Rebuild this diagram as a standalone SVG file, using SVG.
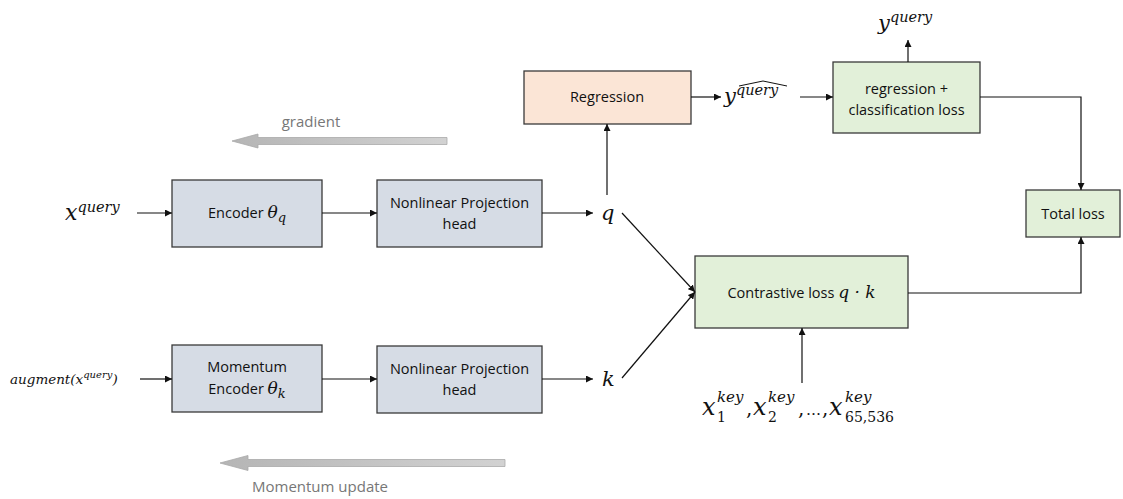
<svg xmlns="http://www.w3.org/2000/svg" width="1123" height="499" viewBox="0 0 1123 499">
<style>
.box{stroke:#3a3a3a;stroke-width:1.3}
.blue{fill:#D6DCE5}
.orange{fill:#FBE5D6}
.green{fill:#E2F0D9}
.t{font-family:"Open Sans","Liberation Sans",sans-serif;font-size:14.5px;fill:#111;text-anchor:middle}
.m{font-family:"DejaVu Serif","Liberation Serif",serif;font-style:italic;fill:#111}
.n{font-family:"DejaVu Serif","Liberation Serif",serif;fill:#111}
.c{fill:none;stroke:#111;stroke-width:1.2}
.g{font-family:"Open Sans","Liberation Sans",sans-serif;font-size:15px;fill:#777;text-anchor:middle}
</style>
<defs>
<marker id="ah" viewBox="0 0 10 10" refX="10" refY="5" markerWidth="7" markerHeight="7" markerUnits="userSpaceOnUse" orient="auto">
<path d="M0,0 L10,5 L0,10 z" fill="#111"/>
</marker>
<linearGradient id="gr" x1="0" y1="0" x2="1" y2="0">
<stop offset="0" stop-color="#b5b5b5"/>
<stop offset="1" stop-color="#d2d2d2"/>
</linearGradient>
</defs>
<rect width="1123" height="499" fill="#fff"/>

<g id="gradient-arrow">
<path d="M447,137.5 L258,137.5 L258,134 L232,141 L258,148 L258,144.5 L447,144.5 z" fill="url(#gr)" stroke="#aaa" stroke-width="0.8"/>
<text class="g" x="311" y="127">gradient</text>
</g>
<g id="momentum-arrow">
<path d="M505,459.5 L248,459.5 L248,455.5 L220,463 L248,470.5 L248,466.5 L505,466.5 z" fill="url(#gr)" stroke="#aaa" stroke-width="0.8"/>
<text class="g" x="320" y="492">Momentum update</text>
</g>

<g id="x-query"><text class="m" x="65" y="220" font-size="22">x<tspan font-size="14.5" dy="-8">query</tspan></text></g>
<g id="augment"><text class="m" x="10" y="384" font-size="13.5">augment(x<tspan font-size="10" dy="-6">query</tspan><tspan dy="6">)</tspan></text></g>

<g id="encoder-q"><rect class="box blue" x="172" y="180" width="150" height="67"/>
<text class="t" x="247" y="218">Encoder <tspan class="m" font-size="17">θ</tspan><tspan class="m" font-size="13" dy="4">q</tspan></text></g>
<g id="proj-q"><rect class="box blue" x="377" y="180" width="165" height="67"/>
<text class="t" x="459.5" y="208">Nonlinear Projection</text><text class="t" x="459.5" y="229">head</text></g>
<g id="encoder-k"><rect class="box blue" x="172" y="345" width="150" height="67"/>
<text class="t" x="247" y="372">Momentum</text><text class="t" x="247" y="394">Encoder <tspan class="m" font-size="17">θ</tspan><tspan class="m" font-size="13" dy="4">k</tspan></text></g>
<g id="proj-k"><rect class="box blue" x="377" y="346" width="165" height="67"/>
<text class="t" x="459.5" y="374">Nonlinear Projection</text><text class="t" x="459.5" y="395">head</text></g>

<g id="q-label"><text class="m" x="601" y="220" font-size="21">q</text></g>
<g id="k-label"><text class="m" x="602" y="386" font-size="21">k</text></g>

<g id="regression"><rect class="box orange" x="524" y="71" width="167" height="53"/>
<text class="t" x="607" y="102">Regression</text></g>

<g id="yhat"><text class="m" x="724" y="103" font-size="21">y<tspan font-size="14.5" dy="-8">query</tspan></text>
<polyline points="739,86 763,81 787,86" fill="none" stroke="#111" stroke-width="1"/></g>

<g id="reg-loss"><rect class="box green" x="833" y="62" width="147" height="71"/>
<text class="t" x="906.5" y="94">regression +</text><text class="t" x="906.5" y="115">classification loss</text></g>

<g id="y-query"><text class="m" x="878" y="30" font-size="21">y<tspan font-size="14.5" dy="-8">query</tspan></text></g>

<g id="total-loss"><rect class="box green" x="1026" y="190" width="94" height="47"/>
<text class="t" x="1073" y="219">Total loss</text></g>

<g id="contrastive"><rect class="box green" x="695" y="256" width="213" height="72"/>
<text class="t" x="801.5" y="298">Contrastive loss <tspan class="m" font-size="17">q · k</tspan></text></g>

<g id="keys">
<text class="m" x="702" y="415" font-size="24">x</text>
<text class="m" x="717" y="402" font-size="15">key</text>
<text class="n" x="717" y="422" font-size="14">1</text>
<text class="n" x="746" y="415" font-size="20">,</text>
<text class="m" x="753" y="415" font-size="24">x</text>
<text class="m" x="768" y="402" font-size="15">key</text>
<text class="n" x="768" y="422" font-size="14">2</text>
<text class="n" x="798" y="415" font-size="20">,</text>
<text class="n" x="806" y="415" font-size="15">…</text>
<text class="n" x="822" y="415" font-size="20">,</text>
<text class="m" x="829" y="415" font-size="24">x</text>
<text class="m" x="845" y="402" font-size="15">key</text>
<text class="n" x="845" y="422" font-size="14">65,536</text>
</g>

<g id="connectors">
<line class="c" x1="137" y1="213" x2="172" y2="213" marker-end="url(#ah)"/>
<line class="c" x1="322" y1="213" x2="377" y2="213" marker-end="url(#ah)"/>
<line class="c" x1="542" y1="213" x2="593" y2="213" marker-end="url(#ah)"/>
<line class="c" x1="140" y1="379" x2="172" y2="379" marker-end="url(#ah)"/>
<line class="c" x1="322" y1="379" x2="377" y2="379" marker-end="url(#ah)"/>
<line class="c" x1="542" y1="379" x2="593" y2="379" marker-end="url(#ah)"/>
<line class="c" x1="607" y1="195" x2="607" y2="124" marker-end="url(#ah)"/>
<line class="c" x1="622" y1="213" x2="695" y2="292" marker-end="url(#ah)"/>
<line class="c" x1="622" y1="378" x2="695" y2="292" marker-end="url(#ah)"/>
<line class="c" x1="691" y1="97" x2="721" y2="97" marker-end="url(#ah)"/>
<line class="c" x1="800" y1="97" x2="833" y2="97" marker-end="url(#ah)"/>
<line class="c" x1="908" y1="62" x2="908" y2="40" marker-end="url(#ah)"/>
<polyline class="c" points="980,97 1081,97 1081,190" marker-end="url(#ah)"/>
<polyline class="c" points="908,293 1081,293 1081,237" marker-end="url(#ah)"/>
<line class="c" x1="802" y1="383" x2="802" y2="328" marker-end="url(#ah)"/>
</g>
</svg>
